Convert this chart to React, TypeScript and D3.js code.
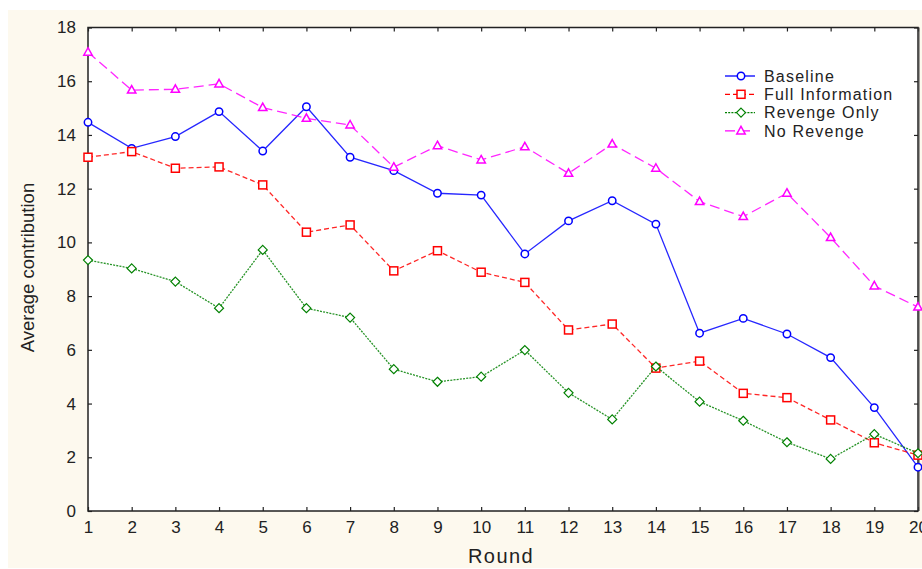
import React, { useEffect, useRef } from 'react';
import * as d3 from 'd3';

const rounds = d3.range(1, 21);
const baseline = [14.47, 13.5, 13.94, 14.87, 13.4, 15.05, 13.17, 12.67, 11.83, 11.76, 9.57, 10.8, 11.55, 10.68, 6.62, 7.17, 6.59, 5.71, 3.85, 1.63];
const fullInfo = [13.17, 13.38, 12.76, 12.81, 12.14, 10.38, 10.65, 8.94, 9.69, 8.89, 8.51, 6.74, 6.96, 5.32, 5.58, 4.38, 4.22, 3.39, 2.54, 2.08];
const revengeOnly = [9.34, 9.03, 8.54, 7.55, 9.72, 7.55, 7.2, 5.28, 4.81, 5.0, 5.99, 4.4, 3.41, 5.38, 4.07, 3.36, 2.56, 1.94, 2.86, 2.15];
const noRevenge = [17.08, 15.67, 15.7, 15.9, 15.02, 14.62, 14.37, 12.8, 13.6, 13.07, 13.56, 12.57, 13.66, 12.76, 11.52, 10.96, 11.83, 10.18, 8.38, 7.59];
const yTicks = [0, 2, 4, 6, 8, 10, 12, 14, 16, 18];

const seriesList = [
    { name: 'Baseline', values: baseline, color: '#0000ff', dash: null, marker: 'circle' },
    { name: 'Full Information', values: fullInfo, color: '#ff0000', dash: '5,3', marker: 'square' },
    { name: 'Revenge Only', values: revengeOnly, color: '#008000', dash: '2,1.2', marker: 'diamond' },
    { name: 'No Revenge', values: noRevenge, color: '#ff00ff', dash: '10,5', marker: 'triangle' },
];

const FONT = '"Liberation Sans", Arial, sans-serif';

function drawMarker(g, type, cx, cy, color) {
    if (type === 'circle') {
        g.append('circle').attr('cx', cx).attr('cy', cy).attr('r', 3.7)
            .attr('fill', 'white').attr('stroke', color).attr('stroke-width', 1.5);
    } else if (type === 'square') {
        g.append('rect').attr('x', cx - 4).attr('y', cy - 4).attr('width', 8).attr('height', 8)
            .attr('fill', 'white').attr('stroke', color).attr('stroke-width', 1.5);
    } else if (type === 'diamond') {
        g.append('path').attr('d', `M${cx},${cy - 4.5}L${cx + 4.5},${cy}L${cx},${cy + 4.5}L${cx - 4.5},${cy}Z`)
            .attr('fill', 'white').attr('stroke', color).attr('stroke-width', 1.2);
    } else {
        g.append('path').attr('d', `M${cx},${cy - 4.5}L${cx + 4.2},${cy + 3}L${cx - 4.2},${cy + 3}Z`)
            .attr('fill', 'white').attr('stroke', color).attr('stroke-width', 1.5);
    }
}

const App = () => {
    const svgRef = useRef(null);

    useEffect(() => {
        const svg = d3.select(svgRef.current);
        svg.selectAll('*').remove();

        const left = 88, right = 918, top = 27.5, bottom = 511;
        const x = d3.scaleLinear().domain([1, 20]).range([left, right]);
        const y = d3.scaleLinear().domain([0, 18]).range([bottom, top]);

        // cream background, white plot
        svg.append('rect').attr('x', 8).attr('y', 10).attr('width', 914).attr('height', 558).attr('fill', '#fdf9ee');
        svg.append('rect').attr('x', left).attr('y', top).attr('width', right - left).attr('height', bottom - top).attr('fill', 'white');

        // axes with inward ticks
        const xAxis = svg.append('g').attr('transform', `translate(0,${bottom})`)
            .call(d3.axisBottom(x).tickValues(rounds).tickFormat(d3.format('d')).tickSizeInner(-4).tickSizeOuter(0).tickPadding(10));
        const yAxis = svg.append('g').attr('transform', `translate(${left},0)`)
            .call(d3.axisLeft(y).tickValues(yTicks).tickSizeInner(-4).tickSizeOuter(0).tickPadding(12));
        svg.append('g').attr('transform', `translate(0,${top})`)
            .call(d3.axisTop(x).tickValues(rounds).tickFormat(() => '').tickSizeInner(-4).tickSizeOuter(0));
        svg.append('g').attr('transform', `translate(${right},0)`)
            .call(d3.axisRight(y).tickValues(yTicks).tickFormat(() => '').tickSizeInner(-4).tickSizeOuter(0));

        svg.selectAll('.domain').remove();
        svg.selectAll('.tick line').attr('stroke', '#222').attr('stroke-width', 1.2);
        [xAxis, yAxis].forEach(a => a.selectAll('text')
            .attr('font-family', FONT).attr('font-size', 17).attr('fill', '#222'));

        // frame
        svg.append('rect').attr('x', left).attr('y', top).attr('width', right - left).attr('height', bottom - top)
            .attr('fill', 'none').attr('stroke', '#222').attr('stroke-width', 1.5);
        svg.append('line').attr('x1', right + 1).attr('x2', right + 1).attr('y1', top).attr('y2', bottom)
            .attr('stroke', '#444').attr('stroke-width', 1);

        // series
        const line = d3.line().x((d, i) => x(rounds[i])).y(d => y(d));
        seriesList.forEach(s => {
            svg.append('path').datum(s.values)
                .attr('d', line)
                .attr('fill', 'none')
                .attr('stroke', s.color)
                .attr('stroke-width', 1.3)
                .attr('stroke-dasharray', s.dash)
                .attr('opacity', 0.85);
            const mg = svg.append('g');
            s.values.forEach((v, i) => drawMarker(mg, s.marker, x(rounds[i]), y(v), s.color));
        });

        // legend
        const legend = svg.append('g').attr('transform', 'translate(725,76)');
        seriesList.forEach((s, i) => {
            const row = legend.append('g').attr('transform', `translate(0,${i * 18.3})`);
            row.append('line').attr('x1', 0).attr('x2', 30).attr('y1', 0).attr('y2', 0)
                .attr('stroke', s.color).attr('stroke-width', 1.3).attr('stroke-dasharray', s.dash);
            drawMarker(row, s.marker, 16, 0, s.color);
            row.append('text').attr('x', 39).attr('y', 0).attr('dy', '0.35em')
                .attr('font-family', FONT).attr('font-size', 16).attr('letter-spacing', 1.2)
                .attr('fill', '#222').text(s.name);
        });

        // axis titles
        svg.append('text').attr('x', 501).attr('y', 563).attr('text-anchor', 'middle')
            .attr('font-family', FONT).attr('font-size', 20).attr('letter-spacing', 1.4)
            .attr('fill', '#222').text('Round');
        svg.append('text').attr('transform', 'translate(34,267.5) rotate(-90)').attr('text-anchor', 'middle')
            .attr('font-family', FONT).attr('font-size', 18.5)
            .attr('fill', '#222').text('Average contribution');
    }, []);

    return (
        <svg ref={svgRef} width={922} height={569}
            style={{ position: 'absolute', left: 0, top: 0, background: 'white' }} />
    );
};

export default App;
